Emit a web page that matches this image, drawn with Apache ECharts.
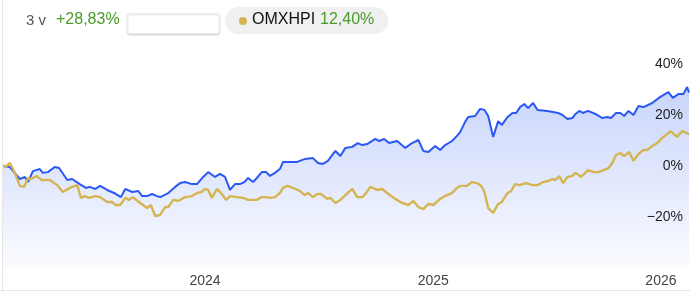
<!DOCTYPE html>
<html>
<head>
<meta charset="utf-8">
<script src="https://cdn.jsdelivr.net/npm/echarts@6/dist/echarts.min.js"></script>
<style>
html,body{margin:0;padding:0;background:#fff;}
#c{width:690px;height:292px;}
</style>
</head>
<body>
<div id="c"></div>
<script>
// ---- data ----
const periodLabel = '3 v';
const fundReturnLabel = '+28,83%';
const indexName = 'OMXHPI';
const indexReturnLabel = '12,40%';

const yTicks = [-40, -20, 0, 20, 40, 60];
const yearLabels = ['2024-01-01', '2025-01-01', '2026-01-01'];
const rangeStart = '2023-02-11';
const rangeEnd = '2026-02-15';

const fundDates = [
  '2023-02-11','2023-02-22','2023-03-10','2023-03-18','2023-03-23','2023-03-31','2023-04-11','2023-04-16','2023-04-24','2023-05-05',
  '2023-05-12','2023-05-25','2023-06-02','2023-06-14','2023-06-24','2023-06-30','2023-07-09','2023-07-17','2023-07-28','2023-08-10',
  '2023-08-19','2023-08-26','2023-09-06','2023-09-16','2023-09-22','2023-09-30','2023-10-08','2023-10-16','2023-10-21','2023-11-03',
  '2023-11-14','2023-11-22','2023-11-30','2023-12-11','2023-12-19','2023-12-29','2024-01-06','2024-01-17','2024-01-25','2024-02-02',
  '2024-02-10','2024-02-18','2024-02-26','2024-03-04','2024-03-10','2024-03-18','2024-03-24','2024-04-01','2024-04-08','2024-04-14',
  '2024-04-22','2024-04-30','2024-05-05','2024-05-28','2024-06-05','2024-06-09','2024-06-22','2024-06-30','2024-07-08','2024-07-16',
  '2024-07-28','2024-08-05','2024-08-13','2024-08-24','2024-09-02','2024-09-09','2024-09-17','2024-09-30','2024-10-06','2024-10-14',
  '2024-10-22','2024-11-04','2024-11-17','2024-11-28','2024-12-08','2024-12-16','2024-12-24','2025-01-04','2025-01-12','2025-01-20',
  '2025-01-31','2025-02-08','2025-02-13','2025-02-21','2025-02-26','2025-03-09','2025-03-17','2025-03-24','2025-03-30','2025-04-07',
  '2025-04-15','2025-04-21','2025-04-30','2025-05-08','2025-05-14','2025-05-20','2025-05-27','2025-06-02','2025-06-10','2025-06-17',
  '2025-07-03','2025-07-20','2025-07-27','2025-08-04','2025-08-12','2025-08-17','2025-08-23','2025-08-29','2025-09-06','2025-09-18',
  '2025-09-29','2025-10-07','2025-10-13','2025-10-21','2025-10-28','2025-11-03','2025-11-10','2025-11-18','2025-11-26','2025-12-04',
  '2025-12-18','2025-12-31','2026-01-13','2026-01-20','2026-01-29','2026-02-06','2026-02-12','2026-02-15'
];
const fundValues = [
  0, -0.4, -5.1, -4.3, -6.3, -2.0, -1.2, -2.7, -2.4, -0.4,
  -0.8, -5.5, -5.1, -7.1, -8.6, -8.2, -9.0, -7.8, -9.4, -10.8,
  -12.2, -9.0, -10.2, -9.8, -11.8, -11.8, -11.0, -11.8, -12.2, -10.6,
  -8.2, -6.7, -6.3, -7.1, -7.1, -4.3, -2.4, -4.3, -3.1, -4.3,
  -9.4, -7.1, -7.1, -6.3, -4.7, -6.3, -4.7, -2.4, -2.4, -3.9,
  -2.7, -1.2, 1.6, 1.6, 2.4, 2.7, 3.1, 1.2, 0.8, 2.0,
  5.9, 3.9, 7.1, 7.5, 9.0, 8.2, 8.6, 10.6, 9.8, 10.6,
  9.0, 9.8, 7.1, 9.0, 10.2, 5.9, 5.5, 7.8, 6.3, 8.2,
  9.8, 11.8, 13.3, 17.3, 19.2, 19.6, 22.4, 22.0, 19.6, 11.4,
  17.6, 16.1, 19.2, 20.8, 20.8, 23.1, 24.3, 22.7, 24.7, 22.0,
  21.6, 20.8, 20.0, 18.4, 18.8, 20.4, 21.6, 20.8, 21.6, 20.4,
  18.8, 19.2, 18.8, 20.8, 20.8, 19.6, 21.6, 20.0, 23.5, 23.1,
  24.7, 27.1, 29.0, 26.7, 28.2, 28.2, 31.0, 28.83
];

const indexDates = [
  '2023-02-11','2023-02-17','2023-02-22','2023-03-02','2023-03-10','2023-03-17','2023-03-23','2023-03-28','2023-04-06','2023-04-14',
  '2023-04-27','2023-05-09','2023-05-18','2023-05-29','2023-06-10','2023-06-16','2023-06-22','2023-06-29','2023-07-09','2023-07-17',
  '2023-07-28','2023-08-05','2023-08-10','2023-08-18','2023-08-26','2023-09-01','2023-09-07','2023-09-19','2023-09-30','2023-10-06',
  '2023-10-13','2023-10-21','2023-10-29','2023-11-03','2023-11-11','2023-11-19','2023-11-30','2023-12-11','2023-12-19','2023-12-26',
  '2024-01-01','2024-01-06','2024-01-12','2024-01-20','2024-01-28','2024-02-04','2024-02-10','2024-02-21','2024-03-02','2024-03-10',
  '2024-03-24','2024-04-01','2024-04-08','2024-04-14','2024-04-22','2024-04-30','2024-05-05','2024-05-12','2024-05-21','2024-06-01',
  '2024-06-09','2024-06-14','2024-06-22','2024-06-29','2024-07-05','2024-07-15','2024-07-20','2024-07-28','2024-08-05','2024-08-13',
  '2024-08-24','2024-09-01','2024-09-09','2024-09-14','2024-09-22','2024-10-03','2024-10-11','2024-10-21','2024-11-01','2024-11-12',
  '2024-11-22','2024-11-30','2024-12-08','2024-12-16','2024-12-24','2025-01-01','2025-01-12','2025-01-23','2025-01-31','2025-02-08',
  '2025-02-13','2025-02-24','2025-03-04','2025-03-12','2025-03-19','2025-03-24','2025-03-30','2025-04-07','2025-04-15','2025-04-21',
  '2025-04-30','2025-05-06','2025-05-12','2025-05-19','2025-05-30','2025-06-09','2025-06-17','2025-06-26','2025-07-04','2025-07-11',
  '2025-07-16','2025-07-22','2025-07-28','2025-08-04','2025-08-12','2025-08-17','2025-08-26','2025-09-06','2025-09-15','2025-09-23',
  '2025-10-01','2025-10-09','2025-10-15','2025-10-21','2025-10-28','2025-11-03','2025-11-11','2025-11-18','2025-11-26','2025-12-04',
  '2025-12-10','2025-12-18','2025-12-26','2026-01-03','2026-01-11','2026-01-16','2026-01-27','2026-02-04','2026-02-12','2026-02-15'
];
const indexValues = [
  0, 0, 1.2, -2.7, -7.8, -8.2, -4.7, -5.1, -3.9, -5.5,
  -5.5, -7.5, -10.2, -8.6, -7.5, -12.5, -11.8, -12.5, -11.8, -12.2,
  -14.1, -14.1, -15.3, -15.3, -12.5, -13.3, -12.2, -14.5, -16.5, -15.3,
  -19.6, -19.2, -16.1, -16.1, -13.3, -13.7, -12.2, -11.8, -10.6, -10.2,
  -9.0, -9.4, -12.5, -9.0, -11.0, -13.3, -11.8, -12.2, -12.5, -13.3,
  -13.3, -12.2, -12.2, -12.5, -12.2, -10.6, -8.6, -7.8, -8.6, -9.8,
  -11.4, -10.6, -12.2, -11.0, -11.0, -12.9, -12.5, -14.5, -13.3, -11.4,
  -9.0, -12.2, -12.2, -11.0, -8.2, -9.4, -9.0, -11.0, -12.9, -14.5,
  -15.3, -13.7, -16.1, -16.9, -14.9, -15.3, -12.9, -11.4, -10.6, -8.6,
  -7.8, -7.8, -6.3, -6.7, -7.8, -10.2, -16.5, -18.4, -14.9, -14.1,
  -10.6, -9.8, -7.1, -7.5, -6.7, -7.5, -7.5, -6.3, -5.9, -5.1,
  -5.5, -3.9, -6.7, -4.3, -3.9, -2.7, -4.3, -1.6, -2.4, -2.4,
  -1.6, -0.8, 1.2, 4.3, 5.1, 3.9, 5.5, 2.0, 4.7, 6.3,
  6.3, 7.8, 9.0, 11.0, 12.5, 13.7, 11.4, 13.7, 12.9, 12.40
];

// ---- chart ----
const FONT = '"Liberation Sans", Arial, Helvetica, sans-serif';
const GREEN = '#4b9a2c';
const BLUE = '#2a58f4';
const GOLD = '#d4b552';

const ts = s => Date.UTC(+s.slice(0, 4), +s.slice(5, 7) - 1, +s.slice(8, 10));
const fundData = fundDates.map((d, i) => [ts(d), fundValues[i]]);
const indexData = indexDates.map((d, i) => [ts(d), indexValues[i]]);

const chart = echarts.init(document.getElementById('c'), null, {renderer: 'canvas'});
chart.setOption({
  animation: false,
  backgroundColor: '#ffffff',
  grid: {left: 3, right: 1, top: 13, bottom: 24, containLabel: false},
  xAxis: {
    type: 'value',
    min: ts(rangeStart),
    max: ts(rangeEnd),
    axisLine: {show: false},
    axisTick: {show: false},
    splitLine: {show: false},
    axisLabel: {
      customValues: yearLabels.map(ts),
      formatter: v => String(new Date(v).getUTCFullYear()),
      color: '#444444',
      fontFamily: FONT,
      fontSize: 14,
      margin: 6
    }
  },
  yAxis: {
    type: 'value',
    position: 'right',
    min: yTicks[0],
    max: yTicks[yTicks.length - 1],
    interval: 20,
    axisLine: {show: false},
    axisTick: {show: false},
    splitLine: {show: false},
    axisLabel: {
      inside: true,
      margin: 6,
      showMinLabel: false,
      showMaxLabel: false,
      color: '#1e1e1e',
      fontFamily: FONT,
      fontSize: 14,
      formatter: v => (v < 0 ? '\u2212' + Math.abs(v) : String(v)) + '%'
    },
    z: 10
  },
  series: [
    {
      name: 'Fund',
      type: 'line',
      data: fundData,
      showSymbol: false,
      lineStyle: {color: BLUE, width: 2},
      itemStyle: {color: BLUE},
      areaStyle: {
        origin: 'start',
        color: new echarts.graphic.LinearGradient(0, 0, 0, 1, [
          {offset: 0, color: 'rgba(50,95,240,0.38)'},
          {offset: 1, color: 'rgba(50,95,240,0.03)'}
        ])
      },
      z: 2
    },
    {
      name: indexName,
      type: 'line',
      data: indexData,
      showSymbol: false,
      lineStyle: {color: GOLD, width: 2.4},
      itemStyle: {color: GOLD},
      z: 3
    }
  ],
  graphic: [
    {type: 'line', shape: {x1: 2.5, y1: 0, x2: 2.5, y2: 292}, style: {stroke: '#e6e6e6', lineWidth: 1}, silent: true},
    {type: 'line', shape: {x1: 0, y1: 290.5, x2: 690, y2: 290.5}, style: {stroke: '#e6e6e6', lineWidth: 1}, silent: true},
    {type: 'text', left: 26, top: 13, style: {text: periodLabel, fill: '#555555', font: '15px ' + FONT}},
    {type: 'text', left: 56, top: 12, style: {text: fundReturnLabel, fill: GREEN, font: '16px ' + FONT}},
    {type: 'rect', shape: {x: 127.5, y: 13.5, width: 92, height: 20, r: 2},
      style: {fill: '#ffffff', stroke: '#ececec', lineWidth: 1, shadowBlur: 2, shadowOffsetY: 1, shadowColor: 'rgba(0,0,0,0.18)'}},
    {type: 'rect', shape: {x: 225, y: 7, width: 163, height: 27, r: 13.5}, style: {fill: '#f0f0f0'}},
    {type: 'circle', shape: {cx: 243, cy: 21, r: 4}, style: {fill: GOLD}},
    {type: 'text', left: 252, top: 12, style: {text: indexName, fill: '#111111', font: '16px ' + FONT}},
    {type: 'text', left: 320, top: 12, style: {text: indexReturnLabel, fill: GREEN, font: '16px ' + FONT}}
  ]
});
</script>
</body>
</html>
